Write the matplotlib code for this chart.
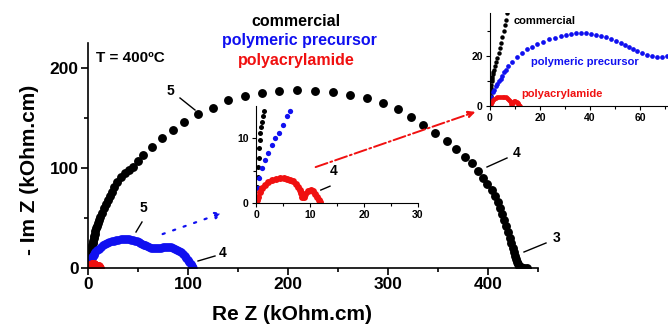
import matplotlib
matplotlib.use("Agg")
import matplotlib.pyplot as plt

plt.rcParams['font.family'] = ['Liberation Sans', 'DejaVu Sans']
plt.rcParams['font.weight'] = 'bold'

# impedance data, Re Z / -Im Z in kOhm.cm
comm_re = [0.1, 0.2, 0.35, 0.45, 0.55, 0.6, 0.7, 0.8, 0.9, 1.1, 1.3, 1.5, 2, 2.5, 3, 3.5, 4, 4.5, 5, 5.5,
           6, 6.5, 7, 8, 9, 10, 11, 12, 14, 16, 18, 20, 22, 24, 26, 29, 33, 37, 41, 45,
           50, 55, 64, 74, 85, 96, 110, 125, 140, 157, 174, 191, 209, 227, 245, 262, 279, 295, 310, 323,
           335, 347, 359, 368, 377, 384, 390, 395, 399, 404, 407, 410, 412, 414, 416, 418, 420, 422, 423, 425,
           426, 427, 428, 429, 430, 431, 433, 436, 439]
comm_im = [1, 2.5, 4, 5.5, 7, 8.5, 9.8, 10.8, 11.7, 12.6, 13.5, 14.3, 16, 17.5, 19, 21, 23, 25, 27.5, 30,
           32.5, 34.5, 37, 40, 42.5, 45, 48, 51, 55, 60, 64, 68, 72, 76, 81, 86, 91, 95, 98, 101,
           107, 113, 121, 130, 138, 146, 154, 160, 168, 172, 175, 177, 178, 177, 176, 173, 170, 165, 159, 151,
           143, 135, 127, 119, 111, 105, 97, 90, 84, 78, 72, 66, 60, 54, 48, 42, 36, 30, 25, 20,
           16, 12, 9, 6, 4, 2, 1, 0.5, 0.3]

poly_re = [0.1, 0.3, 0.6, 1.1, 1.7, 2.3, 3.0, 3.5, 4.3, 5.0, 5.7, 6.3, 7.3, 8.9, 10.7, 12.7, 14.7, 16.7, 18.9, 21.3,
           23.6, 26, 28.3, 30.4, 32.5, 34.5, 36.5, 38.5, 40.5, 42.5, 44.5, 46.5, 48.5, 50.5, 52.3, 54, 55.6, 57.2, 58.9, 60.8,
           62.7, 64.7, 66.7, 68.7, 70.7, 72.6, 74.5, 76.5, 78.5, 80.5, 82.5, 84.5, 86.5, 88.5, 90.5, 92.5, 94.5, 96.5, 98.3, 99.8,
           101.2, 102.5, 103.5, 104.3, 104.8]
poly_im = [0.5, 2.3, 3.8, 5.4, 6.6, 7.8, 8.9, 10, 10.9, 12, 13.4, 14.3, 16, 17.7, 19.5, 21, 22.7, 23.7, 24.8, 25.7,
           26.7, 27.3, 28, 28.4, 28.8, 29.1, 29.2, 29.1, 28.8, 28.4, 28, 27.5, 26.8, 26.1, 25.3, 24.4, 23.5, 22.7, 21.8, 21.1,
           20.4, 20, 19.7, 19.7, 20, 20.4, 20.8, 21.1, 21.2, 21.1, 20.8, 20.3, 19.5, 18.5, 17.3, 15.8, 14, 12, 10, 8,
           6, 4, 2.3, 1, 0.3]

pam_re = [0.2, 0.4, 0.7, 1.2, 1.7, 2.3, 3.0, 3.7, 4.4, 5.1, 5.7, 6.3, 6.9, 7.4, 7.8, 8.1, 8.3, 8.5, 8.8, 9.1,
          9.6, 10.1, 10.6, 11.0, 11.3, 11.6, 11.9]
pam_im = [0.4, 0.9, 1.7, 2.3, 2.8, 3.2, 3.5, 3.7, 3.8, 3.8, 3.75, 3.6, 3.35, 3.0, 2.5, 2.0, 1.5, 1.0, 0.9, 1.4,
          1.9, 2.0, 1.8, 1.4, 0.9, 0.5, 0.2]

BLUE = '#1010f0'
RED = '#f01010'
W, H = 668, 327


def style(ax, lw, fs, xmaj, xmin, ymaj, ymin):
    for s in ['top', 'right']:
        ax.spines[s].set_visible(False)
    for s in ['left', 'bottom']:
        ax.spines[s].set_linewidth(lw)
    ax.set_xticks(xmaj)
    ax.set_xticks(xmin, minor=True)
    ax.set_yticks(ymaj)
    ax.set_yticks(ymin, minor=True)
    ax.tick_params(which='major', direction='out', length=4 * lw, width=lw, labelsize=fs, pad=2)
    ax.tick_params(which='minor', direction='out', length=2.5 * lw, width=lw)
    for lab in ax.get_xticklabels() + ax.get_yticklabels():
        lab.set_fontweight('bold')
    ax.patch.set_alpha(0)


fig = plt.figure(figsize=(W / 100, H / 100), dpi=100)

# main plot
ax = fig.add_axes([88 / W, 59 / H, 450 / W, 225 / H])
ax.plot(comm_re, comm_im, 'o', color='black', ms=6.4, mec='none')
ax.plot(poly_re, poly_im, 'o', color=BLUE, ms=6.2, mec='none')
ax.plot(pam_re, pam_im, 'o', color=RED, ms=6.2, mec='none')
ax.set_xlim(0, 450)
ax.set_ylim(0, 225)
style(ax, 1.2, 12.5, [0, 100, 200, 300, 400], [50, 150, 250, 350, 450], [0, 100, 200], [50, 150])

ax.text(8, 210, 'T = 400ºC', fontsize=11, fontweight='bold', va='center')
lbl = dict(fontsize=10, fontweight='bold', ha='center', va='center')
ax.text(82, 177, '5', **lbl)
ax.plot([92, 107], [170, 158], color='black', lw=1)
ax.text(429, 115, '4', **lbl)
ax.plot([399, 419], [101, 110], color='black', lw=1)
ax.text(469, 30, '3', clip_on=False, **lbl)
ax.plot([436, 458], [16, 25], color='black', lw=1, clip_on=False)
ax.text(55, 60, '5', **lbl)
ax.plot([48, 54], [36, 46], color='black', lw=1)
ax.text(135, 15, '4', **lbl)
ax.plot([110, 127], [7, 12], color='black', lw=1)

ax.annotate('', xy=(137, 56), xytext=(72, 33),
            arrowprops=dict(arrowstyle='-|>', color=BLUE, lw=1.6, ls=(0, (1, 4)), mutation_scale=10))
ax.annotate('', xy=(390, 157), xytext=(225, 100), annotation_clip=False,
            arrowprops=dict(arrowstyle='-|>', color=RED, lw=1.4, ls='-.', mutation_scale=10), zorder=5)

fig.text(30 / W, 1 - 170 / H, '- Im Z (kOhm.cm)', rotation=90, fontsize=15, fontweight='bold',
         ha='center', va='center')
fig.text(212 / W, 1 - 315 / H, 'Re Z (kOhm.cm)', fontsize=15, fontweight='bold', ha='left', va='center')

fig.text(296 / W, 1 - 21 / H, 'commercial', color='black', fontsize=11.5, fontweight='bold', ha='center', va='center')
fig.text(299 / W, 1 - 40 / H, 'polymeric precursor', color=BLUE, fontsize=11.5, fontweight='bold', ha='center', va='center')
fig.text(296 / W, 1 - 61 / H, 'polyacrylamide', color=RED, fontsize=11.5, fontweight='bold', ha='center', va='center')

# middle inset, high frequency zoom
ax2 = fig.add_axes([256 / W, 124 / H, 162 / W, 97 / H])
ax2.plot(comm_re, comm_im, 'o', color='black', ms=3.6, mec='none')
ax2.plot(poly_re, poly_im, 'o', color=BLUE, ms=3.8, mec='none')
ax2.plot(pam_re, pam_im, 'o', color=RED, ms=5, mec='none')
ax2.set_xlim(0, 30)
ax2.set_ylim(0, 15)
style(ax2, 0.8, 7.5, [0, 10, 20, 30], [5, 15, 25], [0, 10], [5])
ax2.text(14.3, 4.9, '4', fontsize=10, fontweight='bold', ha='center', va='center')
ax2.plot([12, 13.7], [2.0, 2.6], color='black', lw=1)

# top right inset
ax3 = fig.add_axes([490 / W, 221 / H, 178 / W, 93 / H])
ax3.plot(comm_re, comm_im, 'o', color='black', ms=3.2, mec='none')
ax3.plot(poly_re, poly_im, 'o', color=BLUE, ms=3.4, mec='none')
ax3.plot(pam_re, pam_im, 'o', color=RED, ms=3.4, mec='none')
ax3.set_xlim(0, 71.2)
ax3.set_ylim(0, 37.2)
style(ax3, 0.8, 7.5, [0, 20, 40, 60], [10, 30, 50, 70], [0, 20], [10, 30])
ax3.text(22, 34, 'commercial', color='black', fontsize=8, fontweight='bold', ha='center', va='center')
ax3.text(38, 17.6, 'polymeric precursor', color=BLUE, fontsize=8, fontweight='bold', ha='center', va='center')
ax3.text(28.8, 4.8, 'polyacrylamide', color=RED, fontsize=8, fontweight='bold', ha='center', va='center')

fig.savefig('out.png', dpi=100)
